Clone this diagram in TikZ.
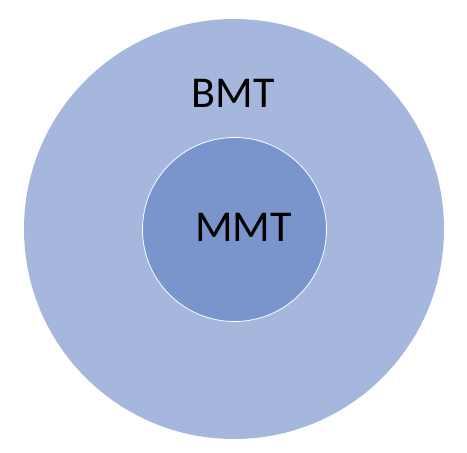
\documentclass[tikz,border=0pt]{standalone}
\usepackage{fontspec}
\setmainfont{Carlito}
\definecolor{outerblue}{HTML}{A5B7DD}
\definecolor{innerblue}{HTML}{7A95CB}
\tikzset{
  outerc/.style={circle, fill=outerblue, draw=none, minimum size=420pt, inner sep=0pt},
  innerc/.style={circle, fill=innerblue, draw=white, line width=0.8pt, minimum size=184pt, inner sep=0pt},
  lbl/.style={font=\fontsize{44}{48}\selectfont, text=black, inner sep=0pt, anchor=center}
}
\begin{document}
\begin{tikzpicture}[x=1pt,y=-1pt]
\useasboundingbox[fill=white] (0,0) rectangle (467,453);
\node[outerc] (outer) at (234,229) {};
\node[innerc] (inner) at (234.5,229.5) {};
\node[lbl] (bmt) at (233,93.5) {BMT};
\node[lbl] (mmt) at (243.5,227.5) {MMT};
\end{tikzpicture}
\end{document}
